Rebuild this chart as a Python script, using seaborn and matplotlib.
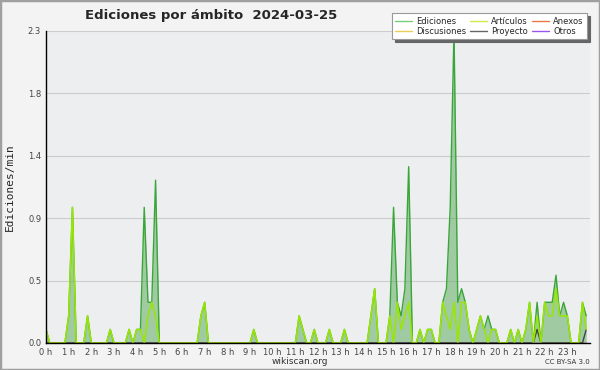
import numpy as np
import seaborn as sns
import matplotlib.pyplot as plt
from matplotlib.lines import Line2D
from matplotlib.patches import Rectangle
from matplotlib.ticker import MultipleLocator

# Ediciones por ámbito, 2024-03-25 -- 10 minute bins, edits per minute
# one row per hour (6 bins)
ediciones = [
    0.1, 0, 0, 0, 0, 0,          # 0h
    0.2, 1.0, 0, 0, 0, 0.2,      # 1h
    0, 0, 0, 0, 0, 0.1,          # 2h
    0, 0, 0, 0, 0.1, 0,          # 3h
    0.1, 0.1, 1.0, 0.3, 0.3, 1.2,  # 4h
    0, 0, 0, 0, 0, 0,            # 5h
    0, 0, 0, 0, 0, 0.2,          # 6h
    0.3, 0, 0, 0, 0, 0,          # 7h
    0, 0, 0, 0, 0, 0,            # 8h
    0, 0.1, 0, 0, 0, 0,          # 9h
    0, 0, 0, 0, 0, 0,            # 10h
    0, 0.2, 0.1, 0, 0, 0.1,      # 11h
    0, 0, 0, 0.1, 0, 0,          # 12h
    0, 0.1, 0, 0, 0, 0,          # 13h
    0, 0, 0.2, 0.4, 0, 0,        # 14h
    0, 0.2, 1.0, 0.3, 0.2, 0.4,  # 15h
    1.3, 0, 0, 0.1, 0, 0.1,      # 16h
    0.1, 0, 0, 0.3, 0.4, 1.0,    # 17h
    2.3, 0.3, 0.4, 0.3, 0.1, 0,  # 18h
    0.1, 0.2, 0.1, 0.2, 0.1, 0.1,  # 19h
    0, 0, 0, 0.1, 0, 0.1,        # 20h
    0, 0.1, 0.3, 0, 0.3, 0,      # 21h
    0.3, 0.3, 0.3, 0.5, 0.2, 0.3,  # 22h
    0.2, 0, 0, 0, 0.3, 0.2,      # 23h
]

articulos = [
    0.1, 0, 0, 0, 0, 0,
    0.2, 1.0, 0, 0, 0, 0.2,
    0, 0, 0, 0, 0, 0.1,
    0, 0, 0, 0, 0.1, 0,
    0.1, 0.1, 0, 0.2, 0.3, 0.2,
    0, 0, 0, 0, 0, 0,
    0, 0, 0, 0, 0, 0.2,
    0.3, 0, 0, 0, 0, 0,
    0, 0, 0, 0, 0, 0,
    0, 0.1, 0, 0, 0, 0,
    0, 0, 0, 0, 0, 0,
    0, 0.2, 0.1, 0, 0, 0.1,
    0, 0, 0, 0.1, 0, 0,
    0, 0.1, 0, 0, 0, 0,
    0, 0, 0.2, 0.4, 0, 0,
    0, 0.2, 0, 0.3, 0.1, 0.2,
    0.3, 0, 0, 0.1, 0, 0.1,
    0.1, 0, 0, 0.3, 0.2, 0.1,
    0.3, 0, 0.3, 0.3, 0.1, 0,
    0.1, 0.2, 0.1, 0, 0.1, 0.1,
    0, 0, 0, 0.1, 0, 0.1,
    0, 0.1, 0.3, 0, 0.2, 0,
    0.3, 0.2, 0.2, 0.4, 0.2, 0.2,
    0.2, 0, 0, 0, 0.3, 0.1,
]

proyecto = [
    0, 0, 0, 0, 0, 0,
    0, 0, 0, 0, 0, 0,
    0, 0, 0, 0, 0, 0,
    0, 0, 0, 0, 0, 0,
    0, 0, 0, 0, 0, 0,
    0, 0, 0, 0, 0, 0,
    0, 0, 0, 0, 0, 0,
    0, 0, 0, 0, 0, 0,
    0, 0, 0, 0, 0, 0,
    0, 0, 0, 0, 0, 0,
    0, 0, 0, 0, 0, 0,
    0, 0, 0, 0, 0, 0,
    0, 0, 0, 0, 0, 0,
    0, 0, 0, 0, 0, 0,
    0, 0, 0, 0, 0, 0,
    0, 0, 0, 0, 0, 0,
    0, 0, 0, 0, 0, 0,
    0, 0, 0, 0, 0, 0,
    0, 0, 0, 0, 0, 0,
    0, 0, 0, 0, 0, 0,
    0, 0, 0, 0, 0, 0,
    0, 0, 0, 0, 0.1, 0,
    0, 0, 0, 0, 0, 0,
    0, 0, 0, 0, 0, 0.1,
]

anexos = [0] * 144
discusiones = [0] * 144
otros = [0] * 144

hours = [i / 6 for i in range(144)]
hour_labels = [str(h) + " h" for h in range(24)]

sns.set_style("white")
plt.rcParams['font.family'] = ['DejaVu Sans']

fig = plt.figure(figsize=(6, 3.7), dpi=100, facecolor='#f3f3f3')
ax = fig.add_axes([46 / 600, 27 / 370, 544 / 600, 312 / 370])
ax.set_facecolor('#eceef0')

ax.fill_between(hours, ediciones, color='#55aa55', alpha=0.5, lw=0, zorder=1)
sns.lineplot(x=hours, y=ediciones, ax=ax, color='#3aa63a', lw=1, zorder=3, legend=False)
for s, c in [(anexos, '#ee7744'), (discusiones, '#eecc55'), (otros, '#9955ee')]:
    sns.lineplot(x=hours, y=s, ax=ax, color=c, lw=1, zorder=1.5, legend=False)
sns.lineplot(x=hours, y=proyecto, ax=ax, color='#444444', lw=1, zorder=3.5, legend=False)
sns.lineplot(x=hours, y=articulos, ax=ax, color='#99e600', lw=1.1, zorder=4, legend=False)

ax.set_xlim(0, 24)
ax.set_ylim(0, 2.3)
ax.set_xticks(range(24))
ax.set_xticklabels(hour_labels)
ax.xaxis.set_minor_locator(MultipleLocator(1 / 6))
yt = np.linspace(0, 2.3, 6)
ax.set_yticks(yt)
ax.set_yticklabels(["%.1f" % v for v in yt])
ax.set_yticks(np.linspace(0, 2.3, 21), minor=True)
ax.tick_params(which='both', direction='out', color='black', width=0.8,
               labelsize=6, labelcolor='#444444', pad=0.5)
ax.tick_params(which='major', length=3)
ax.tick_params(which='minor', length=2.5)
ax.set_xlabel("")
ax.set_ylabel("")
ax.grid(axis='y', which='major', color='#cccccc', lw=0.8)
ax.set_axisbelow(True)
for side in ['top', 'right']:
    ax.spines[side].set_visible(False)
for side in ['left', 'bottom']:
    ax.spines[side].set_color('black')
    ax.spines[side].set_linewidth(1)
    ax.spines[side].set_zorder(5)

# legend, filled column by column -> rows read Ediciones/Artículos/Anexos
names = ['Ediciones', 'Discusiones', 'Artículos', 'Proyecto', 'Anexos', 'Otros']
colors = ['#77cc77', '#eecc55', '#ccee44', '#666666', '#ee7744', '#9955ee']
handles = [Line2D([], [], color=c, lw=1) for c in colors]
leg = fig.legend(handles, names, ncol=3, loc='upper right',
                 bbox_to_anchor=(591 / 600, 1 - 9 / 370), fontsize=6,
                 frameon=True, fancybox=False, shadow={'color': '#666666', 'alpha': 1},
                 handlelength=2.0, handletextpad=0.5, columnspacing=0.5,
                 labelspacing=0.15, borderpad=0.4)
leg.get_frame().set_edgecolor('#999999')
leg.get_frame().set_facecolor('white')
leg.get_frame().set_linewidth(0.8)

fig.text(85 / 600, 1 - 15 / 370, "Ediciones por ámbito  2024-03-25",
         fontsize=9.5, fontweight='bold', ha='left', va='center')
fig.text(10 / 600, 1 - 187 / 370, "Ediciones/min", rotation=90,
         family='DejaVu Sans Mono', fontsize=8, ha='center', va='center')
fig.text(300 / 600, 1 - 361 / 370, "wikiscan.org", fontsize=6.5,
         color='#333333', ha='center', va='center')
fig.text(590 / 600, 1 - 362 / 370, "CC BY-SA 3.0", fontsize=5,
         color='#333333', ha='right', va='center')

fig.patches.append(Rectangle((0, 0), 1, 1, transform=fig.transFigure,
                             fill=False, ec='#a0a0a0', lw=2.5))

fig.savefig('out.png', dpi=100, facecolor=fig.get_facecolor())
